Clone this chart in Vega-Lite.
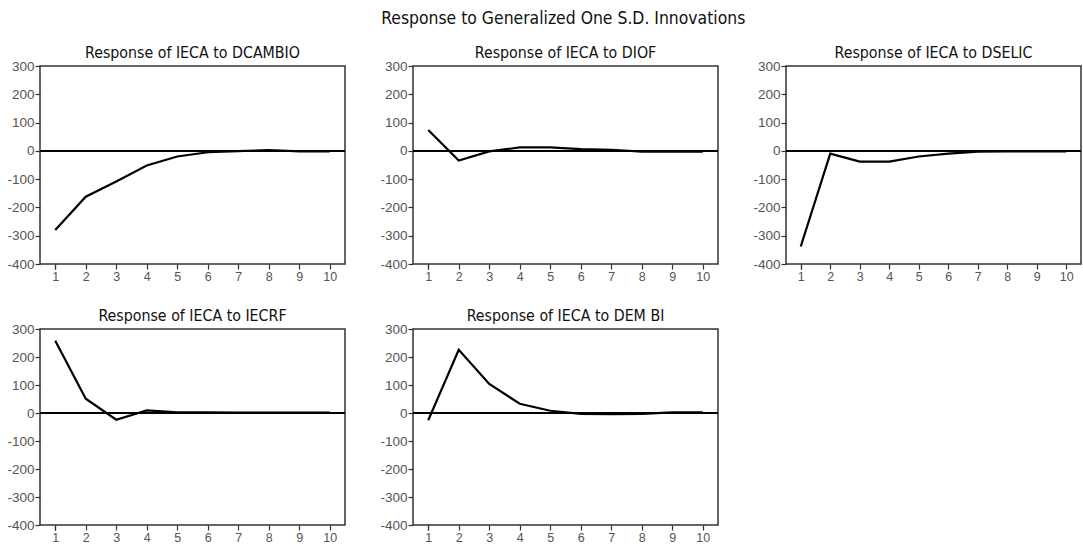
{
  "$schema": "https://vega.github.io/schema/vega-lite/v6.json",
  "background": "white",
  "padding": {"left": 6, "top": 10, "right": 0, "bottom": 0},
  "title": {"text": "Response to Generalized One S.D. Innovations", "fontSize": 17.4, "fontWeight": "normal", "font": "DejaVu Sans Condensed", "color": "#111", "anchor": "middle", "dx": 19, "offset": 17},
  "datasets": {
    "irf": [
      {"panel": "DCAMBIO", "period": 1, "response": -280},
      {"panel": "DCAMBIO", "period": 2, "response": -162},
      {"panel": "DCAMBIO", "period": 3, "response": -108},
      {"panel": "DCAMBIO", "period": 4, "response": -52},
      {"panel": "DCAMBIO", "period": 5, "response": -20},
      {"panel": "DCAMBIO", "period": 6, "response": -5},
      {"panel": "DCAMBIO", "period": 7, "response": -1},
      {"panel": "DCAMBIO", "period": 8, "response": 3},
      {"panel": "DCAMBIO", "period": 9, "response": -2},
      {"panel": "DCAMBIO", "period": 10, "response": -2},
      {"panel": "DIOF", "period": 1, "response": 74},
      {"panel": "DIOF", "period": 2, "response": -34},
      {"panel": "DIOF", "period": 3, "response": -2},
      {"panel": "DIOF", "period": 4, "response": 12},
      {"panel": "DIOF", "period": 5, "response": 12},
      {"panel": "DIOF", "period": 6, "response": 6},
      {"panel": "DIOF", "period": 7, "response": 4},
      {"panel": "DIOF", "period": 8, "response": -3},
      {"panel": "DIOF", "period": 9, "response": -3},
      {"panel": "DIOF", "period": 10, "response": -3},
      {"panel": "DSELIC", "period": 1, "response": -338},
      {"panel": "DSELIC", "period": 2, "response": -10},
      {"panel": "DSELIC", "period": 3, "response": -38},
      {"panel": "DSELIC", "period": 4, "response": -38},
      {"panel": "DSELIC", "period": 5, "response": -20},
      {"panel": "DSELIC", "period": 6, "response": -10},
      {"panel": "DSELIC", "period": 7, "response": -3},
      {"panel": "DSELIC", "period": 8, "response": -2},
      {"panel": "DSELIC", "period": 9, "response": -2},
      {"panel": "DSELIC", "period": 10, "response": -2},
      {"panel": "IECRF", "period": 1, "response": 258},
      {"panel": "IECRF", "period": 2, "response": 51},
      {"panel": "IECRF", "period": 3, "response": -24},
      {"panel": "IECRF", "period": 4, "response": 9},
      {"panel": "IECRF", "period": 5, "response": 2},
      {"panel": "IECRF", "period": 6, "response": 2},
      {"panel": "IECRF", "period": 7, "response": 1},
      {"panel": "IECRF", "period": 8, "response": 1},
      {"panel": "IECRF", "period": 9, "response": 1},
      {"panel": "IECRF", "period": 10, "response": 1},
      {"panel": "DEM BI", "period": 1, "response": -26},
      {"panel": "DEM BI", "period": 2, "response": 226},
      {"panel": "DEM BI", "period": 3, "response": 104},
      {"panel": "DEM BI", "period": 4, "response": 33},
      {"panel": "DEM BI", "period": 5, "response": 8},
      {"panel": "DEM BI", "period": 6, "response": -3},
      {"panel": "DEM BI", "period": 7, "response": -4},
      {"panel": "DEM BI", "period": 8, "response": -3},
      {"panel": "DEM BI", "period": 9, "response": 2},
      {"panel": "DEM BI", "period": 10, "response": 2}
    ]
  },
  "data": {"name": "irf"},
  "spacing": 23,
  "vconcat": [
    {
      "spacing": 68,
      "bounds": "flush",
      "hconcat": [
        {
          "width": 305, "height": 198,
          "title": "Response of IECA to DCAMBIO",
          "transform": [{"filter": "datum.panel === 'DCAMBIO'"}],
          "layer": [
            {"mark": {"type": "rule", "color": "black", "strokeWidth": 1}, "encoding": {"y": {"datum": 0, "type": "quantitative", "scale": {"domain": [-400, 300], "nice": false}}}},
            {"mark": {"type": "line", "color": "black", "strokeWidth": 2.2}, "encoding": {"x": {"field": "period", "type": "ordinal", "title": null}, "y": {"field": "response", "type": "quantitative", "title": null}}}
          ]
        },
        {
          "width": 305, "height": 198,
          "title": "Response of IECA to DIOF",
          "transform": [{"filter": "datum.panel === 'DIOF'"}],
          "layer": [
            {"mark": {"type": "rule", "color": "black", "strokeWidth": 1}, "encoding": {"y": {"datum": 0, "type": "quantitative", "scale": {"domain": [-400, 300], "nice": false}}}},
            {"mark": {"type": "line", "color": "black", "strokeWidth": 2.2}, "encoding": {"x": {"field": "period", "type": "ordinal", "title": null}, "y": {"field": "response", "type": "quantitative", "title": null}}}
          ]
        },
        {
          "width": 295, "height": 198,
          "title": "Response of IECA to DSELIC",
          "transform": [{"filter": "datum.panel === 'DSELIC'"}],
          "layer": [
            {"mark": {"type": "rule", "color": "black", "strokeWidth": 1}, "encoding": {"y": {"datum": 0, "type": "quantitative", "scale": {"domain": [-400, 300], "nice": false}}}},
            {"mark": {"type": "line", "color": "black", "strokeWidth": 2.2}, "encoding": {"x": {"field": "period", "type": "ordinal", "title": null}, "y": {"field": "response", "type": "quantitative", "title": null}}}
          ]
        }
      ]
    },
    {
      "spacing": 68,
      "bounds": "flush",
      "hconcat": [
        {
          "width": 305, "height": 196,
          "title": "Response of IECA to IECRF",
          "transform": [{"filter": "datum.panel === 'IECRF'"}],
          "layer": [
            {"mark": {"type": "rule", "color": "black", "strokeWidth": 1}, "encoding": {"y": {"datum": 0, "type": "quantitative", "scale": {"domain": [-400, 300], "nice": false}}}},
            {"mark": {"type": "line", "color": "black", "strokeWidth": 2.2}, "encoding": {"x": {"field": "period", "type": "ordinal", "title": null}, "y": {"field": "response", "type": "quantitative", "title": null}}}
          ]
        },
        {
          "width": 305, "height": 196,
          "title": "Response of IECA to DEM BI",
          "transform": [{"filter": "datum.panel === 'DEM BI'"}],
          "layer": [
            {"mark": {"type": "rule", "color": "black", "strokeWidth": 1}, "encoding": {"y": {"datum": 0, "type": "quantitative", "scale": {"domain": [-400, 300], "nice": false}}}},
            {"mark": {"type": "line", "color": "black", "strokeWidth": 2.2}, "encoding": {"x": {"field": "period", "type": "ordinal", "title": null}, "y": {"field": "response", "type": "quantitative", "title": null}}}
          ]
        }
      ]
    }
  ],
  "config": {
    "font": "DejaVu Sans Condensed",
    "view": {"stroke": "#333", "strokeWidth": 1.5},
    "title": {"fontSize": 15.8, "fontWeight": "normal", "color": "#111", "font": "DejaVu Sans Condensed", "offset": -3},
    "axis": {"grid": false, "domain": false, "labelFont": "Liberation Sans", "labelFontSize": 12.5, "labelColor": "#555", "tickColor": "#333", "tickSize": 5, "tickWidth": 1.2, "labelPadding": 1},
    "axisY": {"values": [-400, -300, -200, -100, 0, 100, 200, 300], "labelExpr": "replace(datum.label, '\u2212', '-')", "labelFontSize": 13.5},
    "axisX": {"labelAngle": 0, "tickBand": "extent", "labelPadding": 1},
    "scale": {"bandPaddingInner": 0, "bandPaddingOuter": 0}
  }
}
